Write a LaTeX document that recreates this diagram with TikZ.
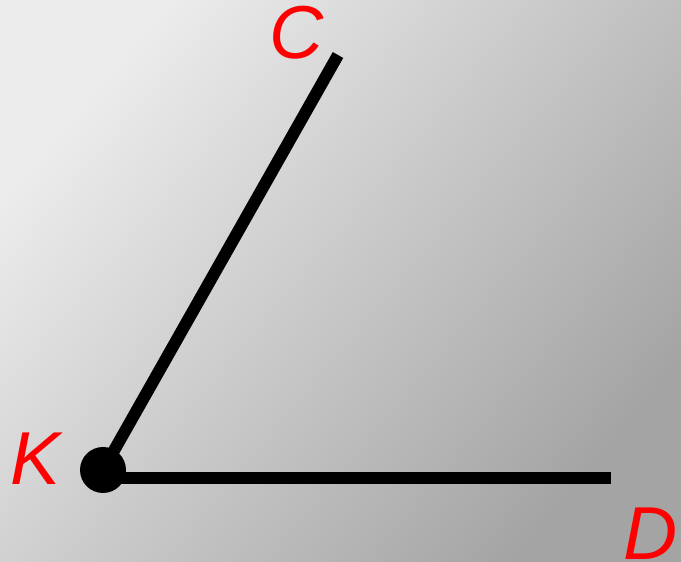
\documentclass[tikz,border=0pt]{standalone}
\usepackage{fontspec}
\setmainfont{Liberation Sans}
\definecolor{bgA}{RGB}{236,236,236}
\definecolor{bgB}{RGB}{164,164,164}
\definecolor{lab}{RGB}{255,0,0}
\begin{document}
\begin{tikzpicture}[x=1pt,y=1pt,
  ray/.style={line width=12pt,line cap=butt},
  lbl/.style={text=lab,font=\fontsize{75}{75}\selectfont\itshape,inner sep=0pt,anchor=base}]
\useasboundingbox (0,0) rectangle (681,562);
\shade[left color=bgA,right color=bgB,shading angle=50] (0,0) rectangle (681,562);
\coordinate (K) at (103,92);
\coordinate (Kh) at (103,84);
\coordinate (C) at (338,507);
\coordinate (D) at (611,84);
\draw[ray] (K) -- (C);
\draw[ray] (Kh) -- (D);
\fill (K) circle (23pt);
\node[lbl] (lC) at (297,503) {C};
\node[lbl] (lK) at (36,77) {K};
\node[lbl] (lD) at (651,2) {D};
\end{tikzpicture}
\end{document}
